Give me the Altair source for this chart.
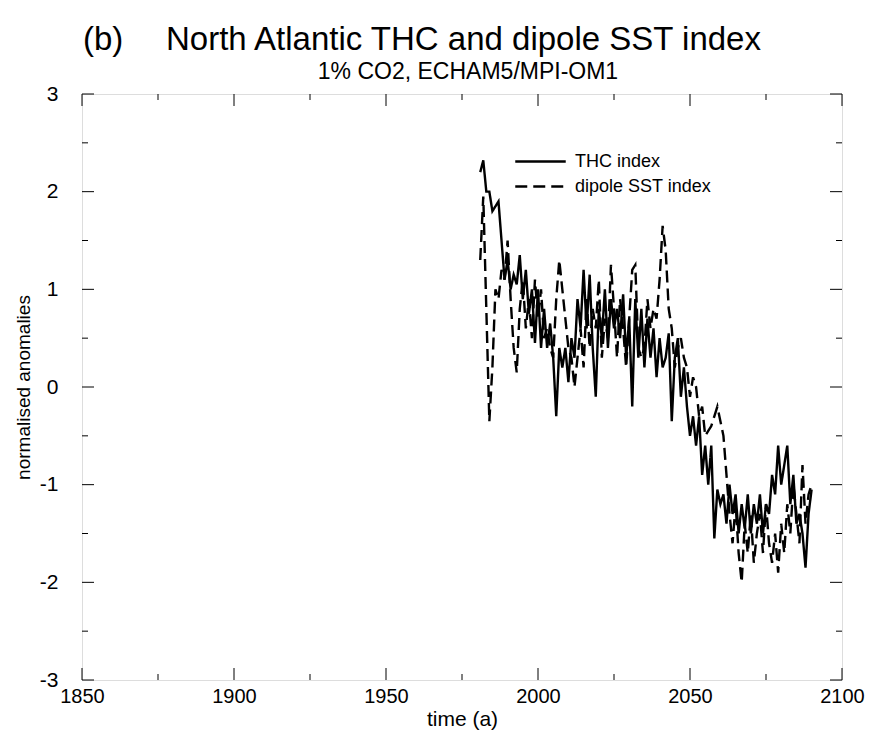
import altair as alt
import pandas as pd

years = list(range(1981, 2091))

thc = [2.2, 2.32, 2.0, 2.0, 1.8, 1.85, 1.9, 1.5, 1.1, 1.3,
       1.0, 1.15, 1.05, 1.35, 0.9, 1.2, 0.75, 1.0, 0.45, 1.0,
       0.4, 0.8, 0.4, 0.65, 0.3, -0.3, 0.4, 0.2, 0.4, 0.05,
       0.5, 0.3, 0.9, 0.6, 1.2, 0.6, 1.15, 0.4, -0.1, 0.8,
       0.5, 1.0, 0.4, 0.9, 0.6, 0.8, 0.5, 0.95, 0.3, 0.7,
       -0.2, 0.9, 0.3, 0.8, 0.2, 0.7, 0.3, 0.6, 0.1, 0.5,
       0.2, 0.3, 0.55, -0.35, 0.3, 0.5, -0.1, 0.2, -0.2, -0.5,
       -0.3, -0.6, -0.3, -0.9, -0.6, -1.0, -0.6, -1.55, -1.05, -1.2,
       -1.1, -1.4, -1.0, -1.3, -1.1, -1.5, -1.2, -1.45, -1.1, -1.5,
       -1.2, -1.4, -1.1, -1.5, -1.2, -1.3, -0.9, -1.1, -0.6, -1.0,
       -0.8, -0.6, -1.2, -0.9, -1.4, -1.3, -1.5, -1.85, -1.3, -1.05]

dipole = [1.3, 1.95, 0.8, -0.35, 0.2, 1.0, 0.9, 1.2, 1.1, 1.5,
          0.9, 0.4, 0.15, 0.8, 1.1, 0.6, 0.9, 0.5, 1.1, 0.7,
          1.0, 0.5, 0.6, 0.4, 0.3, 0.9, 1.3, 1.0, 0.7, 0.4,
          0.3, 0.0, 0.3, 0.6, 0.2, 0.9, 0.4, 0.8, 0.6, 1.1,
          0.3, 0.7, 0.5, 1.25, 0.8, 0.3, 0.9, 0.6, 0.2, 0.7,
          1.2, 1.25, 0.4, 0.3, 0.4, 0.9, 0.6, 0.8, 0.7, 1.1,
          1.65, 1.4, 0.8, 0.6, 0.2, 0.4, 0.5, 0.3, 0.2, -0.1,
          0.1, 0.0, -0.3, -0.2, -0.5, -0.45, -0.4, -0.3, -0.2, -0.35,
          -0.5, -0.9, -1.3, -1.6, -1.2, -1.7, -2.0, -1.4, -1.7, -1.3,
          -1.8, -1.5, -1.3, -1.7, -1.2, -1.6, -1.8, -1.5, -1.9, -1.4,
          -1.7, -1.2, -1.5, -1.0, -1.3, -1.6, -0.8, -1.4, -1.1, -1.0]

assert len(thc) == len(years) == len(dipole)

series_names = ["THC index", "dipole SST index"]
x_major = [1850, 1900, 1950, 2000, 2050, 2100]
x_minor = [1875, 1925, 1975, 2025, 2075]
y_major = [-3, -2, -1, 0, 1, 2, 3]
y_minor = [-2.5, -1.5, -0.5, 0.5, 1.5, 2.5]

W, H = 760, 586
FONT = "Liberation Sans"

df = pd.DataFrame({
    "year": years * 2,
    "value": thc + dipole,
    "series": [series_names[0]] * len(years) + [series_names[1]] * len(years),
})

xs = alt.Scale(domain=[1850, 2100], nice=False, zero=False)
ys = alt.Scale(domain=[-3, 3], nice=False, zero=False)

lines = alt.Chart(df).mark_line(color="black", strokeWidth=2.4, clip=True).encode(
    x=alt.X("year:Q", scale=xs,
            axis=alt.Axis(values=x_major, ticks=False, domain=False, grid=False,
                          labelPadding=6, labelFontSize=20, labelFont=FONT,
                          labelColor="black", title="time (a)", titleFont=FONT,
                          titleFontSize=21, titleFontWeight="normal",
                          titleColor="black", titlePadding=2, format="d",
                          labelFlush=False, labelOverlap=False)),
    y=alt.Y("value:Q", scale=ys,
            axis=alt.Axis(values=y_major, ticks=False, domain=False, grid=False,
                          labelPadding=24, labelFontSize=21, labelFont=FONT,
                          labelColor="black", title="normalised anomalies",
                          titleFont=FONT, titleFontSize=19, titleFontWeight="normal",
                          titleColor="black", titlePadding=6,
                          labelExpr="datum.value < 0 ? '-' + abs(datum.value) : '' + datum.value",
                          labelFlush=False, labelOverlap=False)),
    strokeDash=alt.StrokeDash("series:N",
                              scale=alt.Scale(domain=series_names, range=[[1, 0], [12, 6]]),
                              sort=series_names,
                              legend=alt.Legend(title=None, orient="none", legendX=432,
                                                legendY=55, symbolType="stroke",
                                                symbolSize=2550, symbolStrokeWidth=2.4,
                                                symbolStrokeColor="black",
                                                labelFont=FONT, labelFontSize=18,
                                                labelColor="black", rowPadding=0,
                                                clipHeight=25, labelOffset=8)),
    detail="series:N",
)

def tick_df(vals):
    return pd.DataFrame({"v": vals})

def xticks(length, data, top):
    base = alt.Chart(data).mark_rule(color="black", strokeWidth=1)
    if top:
        return base.encode(x=alt.X("v:Q", scale=xs), y=alt.value(0), y2=alt.value(length))
    return base.encode(x=alt.X("v:Q", scale=xs), y=alt.value(H), y2=alt.value(H - length))

def yticks(length, data, right):
    base = alt.Chart(data).mark_rule(color="black", strokeWidth=1)
    if right:
        return base.encode(y=alt.Y("v:Q", scale=ys), x=alt.value(W), x2=alt.value(W - length))
    return base.encode(y=alt.Y("v:Q", scale=ys), x=alt.value(0), x2=alt.value(length))

xmaj, xmin = tick_df(x_major), tick_df(x_minor)
ymaj, ymin = tick_df(y_major), tick_df(y_minor)

ticks = [
    xticks(12, xmaj, False), xticks(6, xmin, False),
    xticks(12, xmaj, True), xticks(6, xmin, True),
    yticks(12, ymaj, False), yticks(6, ymin, False),
    yticks(12, ymaj, True), yticks(6, ymin, True),
]

label_df = pd.DataFrame({"t": ["x"]})
title_b = alt.Chart(label_df).mark_text(
    text="(b)", font=FONT, fontSize=33,
    align="left", baseline="alphabetic", color="black"
).encode(x=alt.value(1), y=alt.value(-44))
title_main = alt.Chart(label_df).mark_text(
    text="North Atlantic THC and dipole SST index", font=FONT, fontSize=33,
    align="left", baseline="alphabetic", color="black"
).encode(x=alt.value(84), y=alt.value(-44))
subtitle = alt.Chart(label_df).mark_text(
    text="1% CO2, ECHAM5/MPI-OM1", font=FONT, fontSize=23,
    align="center", baseline="middle", color="black"
).encode(x=alt.value(386), y=alt.value(-22))

chart = alt.layer(lines, *ticks, title_b, title_main, subtitle).properties(
    width=W, height=H,
    autosize=alt.AutoSizeParams(type="none"),
    padding={"left": 74, "top": 86, "right": 25, "bottom": 54},
).configure_view(stroke="black", strokeWidth=1).configure(background="white")

chart.save("out.html", embed_options={"renderer": "svg", "actions": False})
